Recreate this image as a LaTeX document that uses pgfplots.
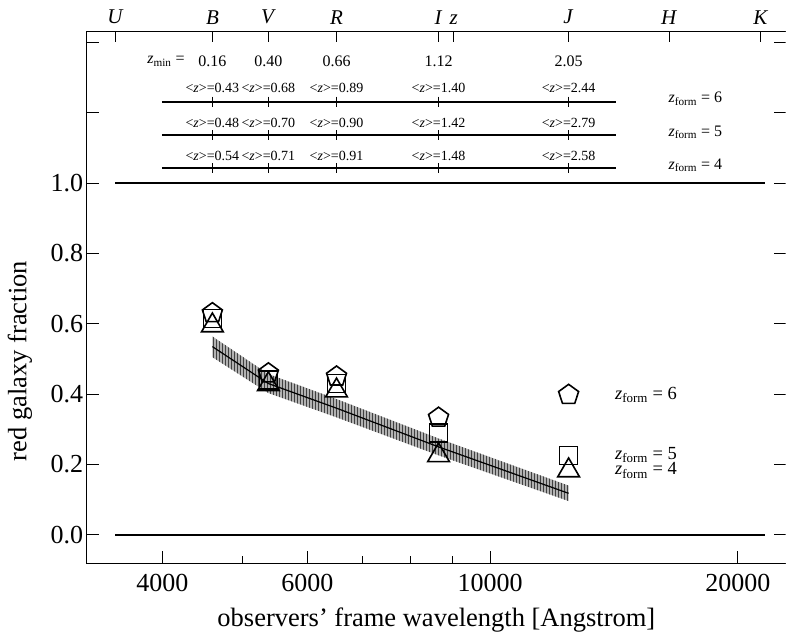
\documentclass[border=0pt]{standalone}
\usepackage{fontspec}
\setmainfont{Liberation Serif}
\usepackage{pgfplots}
\pgfplotsset{compat=1.18}
\usetikzlibrary{plotmarks,patterns}
\newcommand{\fs}[1]{\fontsize{#1}{#1}\selectfont}
\begin{document}
\begin{tikzpicture}
\path[use as bounding box] (-86.7pt,-71pt) rectangle (699.3pt,563pt);
\clip (-86.7pt,-71pt) rectangle (698.8pt,563pt);
\begin{axis}[
  at={(0,0)}, anchor=south west,
  scale only axis, width=699.3pt, height=531.3pt,
  xmode=log, xmin=3237, xmax=22890, ymin=-0.08, ymax=1.43,
  xtick={4000,6000,10000,20000}, xticklabels={4000,6000,10000,20000},
  minor xtick={5000,7000,8000,9000},
  xtick pos=left,
  ytick={0,0.2,0.4,0.6,0.8,1.0,1.2,1.4},
  yticklabels={0.0,0.2,0.4,0.6,0.8,1.0,,},
  tick align=inside,
  major tick length=12pt, minor tick length=7pt,
  every tick/.style={black, line width=0.8pt},
  axis line style={line width=0.9pt},
  xticklabel style={font=\fs{26}, yshift=-7.5pt},
  yticklabel style={font=\fs{26}},
  xlabel={observers' frame wavelength [Angstrom]},
  xlabel style={at={(axis description cs:0.5,-0.107)}, anchor=center, font=\fs{26.5}},
  ylabel={red galaxy fraction},
  ylabel style={at={(axis description cs:-0.0954,0.380)}, anchor=center, font=\fs{26.5}},
]
% shaded band
\addplot[draw=none, fill=gray!60, postaction={pattern=vertical lines, pattern color=black!75}]
  coordinates {(4600,0.564) (5380,0.457) (6510,0.386) (8660,0.274) (12460,0.140)
               (12460,0.096) (8660,0.226) (6510,0.334) (5380,0.403) (4600,0.505)} -- cycle;
\addplot[black, line width=1.2pt] coordinates {(4600,0.535) (5380,0.43) (6510,0.36) (8660,0.25) (12460,0.118)};
% markers
\addplot[only marks, mark=pentagon, mark size=10.5pt, mark options={line width=1.6pt, black}]
  coordinates {(4600,0.630) (5380,0.459) (6510,0.450) (8660,0.333) (12460,0.398)};
\addplot[only marks, mark=square, mark size=9pt, mark options={line width=1.6pt, black}]
  coordinates {(4600,0.615) (5380,0.440) (6510,0.430) (8660,0.290) (12460,0.226)};
\addplot[only marks, mark=triangle, mark size=12.5pt, mark options={line width=1.6pt, black}]
  coordinates {(4600,0.595) (5380,0.428) (6510,0.410) (8660,0.226) (12460,0.183)};
% horizontal reference lines
\addplot[black, line width=2pt] coordinates {(3508,0) (21560,0)};
\addplot[black, line width=2pt] coordinates {(3508,1) (21560,1)};
\addplot[black, line width=2pt] coordinates {(3993,1.231) (14220,1.231)};
\addplot[black, line width=2.5pt] coordinates {(3993,1.136) (14220,1.136)};
\addplot[black, line width=2pt] coordinates {(3993,1.042) (14220,1.042)};
\addplot[only marks, mark=|, mark size=5pt, mark options={line width=1.3pt, black}]
  coordinates {(4600,1.231) (5380,1.231) (6510,1.231) (8660,1.231) (12460,1.231)
               (4600,1.136) (5380,1.136) (6510,1.136) (8660,1.136) (12460,1.136)
               (4600,1.042) (5380,1.042) (6510,1.042) (8660,1.042) (12460,1.042)};
% texts
\node[font=\fs{16}, anchor=east] at (axis cs:4298,1.345) {\textit{z}\textsubscript{min}~=};
\node[font=\fs{16}] at (axis cs:4600,1.345) {0.16};
\node[font=\fs{16}] at (axis cs:5380,1.345) {0.40};
\node[font=\fs{16}] at (axis cs:6510,1.345) {0.66};
\node[font=\fs{16}] at (axis cs:8660,1.345) {1.12};
\node[font=\fs{16}] at (axis cs:12460,1.345) {2.05};
\node[font=\fs{14}] at (axis cs:4600,1.270) {<\textit{z}>=0.43};
\node[font=\fs{14}] at (axis cs:5380,1.270) {<\textit{z}>=0.68};
\node[font=\fs{14}] at (axis cs:6510,1.270) {<\textit{z}>=0.89};
\node[font=\fs{14}] at (axis cs:8660,1.270) {<\textit{z}>=1.40};
\node[font=\fs{14}] at (axis cs:12460,1.270) {<\textit{z}>=2.44};
\node[font=\fs{14}] at (axis cs:4600,1.172) {<\textit{z}>=0.48};
\node[font=\fs{14}] at (axis cs:5380,1.172) {<\textit{z}>=0.70};
\node[font=\fs{14}] at (axis cs:6510,1.172) {<\textit{z}>=0.90};
\node[font=\fs{14}] at (axis cs:8660,1.172) {<\textit{z}>=1.42};
\node[font=\fs{14}] at (axis cs:12460,1.172) {<\textit{z}>=2.79};
\node[font=\fs{14}] at (axis cs:4600,1.077) {<\textit{z}>=0.54};
\node[font=\fs{14}] at (axis cs:5380,1.077) {<\textit{z}>=0.71};
\node[font=\fs{14}] at (axis cs:6510,1.077) {<\textit{z}>=0.91};
\node[font=\fs{14}] at (axis cs:8660,1.077) {<\textit{z}>=1.48};
\node[font=\fs{14}] at (axis cs:12460,1.077) {<\textit{z}>=2.58};
\node[font=\fs{16}, anchor=west] at (axis cs:16320,1.240) {\textit{z}\textsubscript{form}~=~6};
\node[font=\fs{16}, anchor=west] at (axis cs:16320,1.144) {\textit{z}\textsubscript{form}~=~5};
\node[font=\fs{16}, anchor=west] at (axis cs:16320,1.050) {\textit{z}\textsubscript{form}~=~4};
\node[font=\fs{18.5}, anchor=west] at (axis cs:14050,0.398) {\textit{z}\textsubscript{form}~=~6};
\node[font=\fs{18.5}, anchor=west] at (axis cs:14050,0.226) {\textit{z}\textsubscript{form}~=~5};
\node[font=\fs{18.5}, anchor=west] at (axis cs:14050,0.183) {\textit{z}\textsubscript{form}~=~4};
\end{axis}
\begin{axis}[
  at={(0,0)}, anchor=south west,
  scale only axis, width=699.3pt, height=531.3pt,
  xmode=log, xmin=3237, xmax=22890, ymin=-0.08, ymax=1.43,
  ytick=\empty,
  xtick={3508,4601,5381,6512,8661,9036,12457,16504,21330},
  xticklabels={\textit{U},\textit{B},\textit{V},\textit{R},\textit{I},\textit{z},\textit{J},\textit{H},\textit{K}},
  xtick pos=right, xticklabel pos=right,
  tick align=inside,
  major tick length=10pt,
  every tick/.style={black, line width=0.8pt},
  axis line style={line width=0.9pt},
  xticklabel style={font=\fs{21}, yshift=4pt},
]
\end{axis}
\end{tikzpicture}
\end{document}
